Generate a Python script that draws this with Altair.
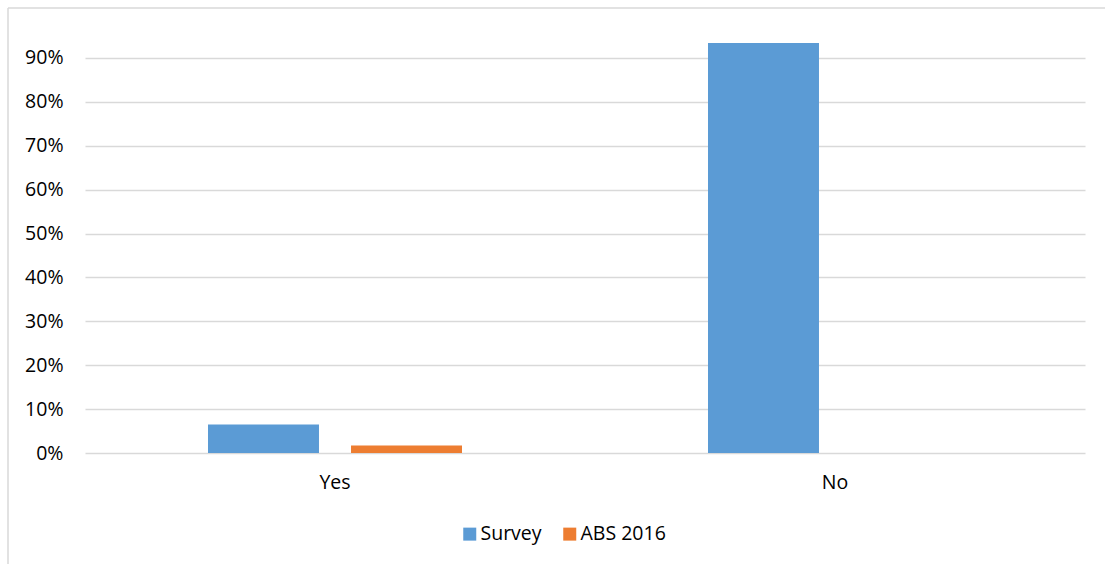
import altair as alt
import pandas as pd

categories = ["Yes", "No"]
series = ["Survey", "ABS 2016"]
survey_values = [0.065, 0.934]
abs_values = [0.017, None]
y_ticks = [0.0, 0.1, 0.2, 0.3, 0.4, 0.5, 0.6, 0.7, 0.8, 0.9]
colors = ["#5B9BD5", "#ED7D31"]

rows = []
for c, s, a in zip(categories, survey_values, abs_values):
    rows.append({"category": c, "series": "Survey", "value": s})
    if a is not None:
        rows.append({"category": c, "series": "ABS 2016", "value": a})
df = pd.DataFrame(rows)

FONT = "Open Sans"

bars = alt.Chart(df).mark_bar().encode(
    x=alt.X("category:N", sort=categories, title=None,
            scale=alt.Scale(paddingInner=0, paddingOuter=0),
            axis=alt.Axis(labelAngle=0, ticks=False, domain=False, grid=False,
                          labelPadding=20, labelFontSize=19.5, labelFont=FONT,
                          labelColor="#000000")),
    xOffset=alt.XOffset("series:N", sort=series,
                        scale=alt.Scale(paddingInner=0.224, paddingOuter=0.86)),
    y=alt.Y("value:Q", title=None,
            scale=alt.Scale(domain=[0, 1.0], nice=False),
            axis=alt.Axis(values=y_ticks, format=".0%", ticks=False, domain=False,
                          grid=True, gridColor="#d9d9d9", gridWidth=1.3,
                          labelPadding=22, labelFontSize=19.5, labelFont=FONT,
                          labelColor="#000000")),
    color=alt.Color("series:N", sort=series,
                    scale=alt.Scale(domain=series, range=colors),
                    legend=alt.Legend(title=None, orient="none", direction="horizontal",
                                      legendX=375, legendY=510, symbolType="square",
                                      symbolSize=169, symbolStrokeWidth=0,
                                      labelFontSize=19.5, labelFont=FONT,
                                      labelColor="#000000", labelOffset=1,
                                      columnPadding=18, padding=0)),
)

border_left = alt.Chart(pd.DataFrame({"a": [0]})).mark_rule(
    color="#d9d9d9", strokeWidth=1.5, clip=False
).encode(x=alt.value(-77), y=alt.value(-6), y2=alt.value(560))

border_top = alt.Chart(pd.DataFrame({"a": [0]})).mark_rule(
    color="#d9d9d9", strokeWidth=1.5, clip=False
).encode(y=alt.value(-6), x=alt.value(-77), x2=alt.value(1030))

chart = alt.layer(border_left, border_top, bars).properties(
    width=1000, height=439,
    autosize=alt.AutoSizeParams(type="none"),
    padding={"left": 85, "top": 14, "right": 20, "bottom": 111},
    background="white",
).configure_view(stroke=None)

chart.save("out.html", embed_options={"renderer": "svg", "actions": False})
